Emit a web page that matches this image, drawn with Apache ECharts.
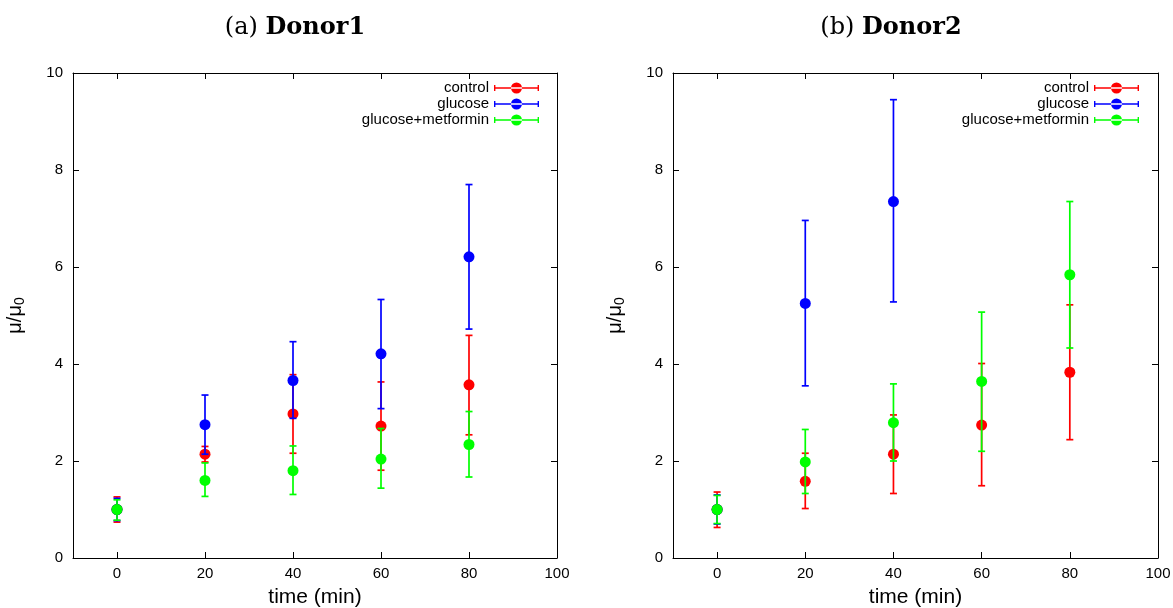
<!DOCTYPE html>
<html>
<head>
<meta charset="utf-8">
<script src="https://cdn.jsdelivr.net/npm/echarts@6/dist/echarts.min.js"></script>
<style>html,body{margin:0;padding:0;background:#fff}#c{width:1173px;height:608px}</style>
</head>
<body>
<div id="c"></div>
<script>
// ---- data ----
const times = [0, 20, 40, 60, 80];
const timesGlucose2 = [0, 20, 40];
const xTickValues = [0, 20, 40, 60, 80, 100];
const seriesNames = ['control', 'glucose', 'glucose+metformin'];
const panelTitles = [['(a) ', 'Donor1'], ['(b) ', 'Donor2']];

// Donor1
const d1ControlMean = [1.00, 2.14, 2.97, 2.72, 3.57];
const d1ControlLow  = [0.74, 1.98, 2.16, 1.81, 2.54];
const d1ControlHigh = [1.26, 2.30, 3.78, 3.63, 4.59];
const d1GlucoseMean = [1.00, 2.75, 3.66, 4.21, 6.21];
const d1GlucoseLow  = [0.77, 2.14, 2.88, 3.08, 4.72];
const d1GlucoseHigh = [1.23, 3.36, 4.46, 5.33, 7.70];
const d1MetforminMean = [1.00, 1.60, 1.80, 2.04, 2.34];
const d1MetforminLow  = [0.78, 1.27, 1.31, 1.44, 1.67];
const d1MetforminHigh = [1.20, 1.96, 2.31, 2.67, 3.02];

// Donor2
const d2ControlMean = [1.00, 1.58, 2.14, 2.74, 3.83];
const d2ControlLow  = [0.63, 1.02, 1.33, 1.49, 2.44];
const d2ControlHigh = [1.36, 2.16, 2.95, 4.01, 5.22];
const d2GlucoseMean = [1.00, 5.25, 7.35];
const d2GlucoseLow  = [0.70, 3.55, 5.28];
const d2GlucoseHigh = [1.30, 6.96, 9.45];
const d2MetforminMean = [1.00, 1.98, 2.79, 3.64, 5.84];
const d2MetforminLow  = [0.71, 1.33, 2.00, 2.20, 4.33];
const d2MetforminHigh = [1.29, 2.65, 3.59, 5.07, 7.35];

// ---- chart ----
const colors = ['#ff0000', '#0000ff', '#00ff00'];
const FONT = '"Liberation Sans", Arial, sans-serif';
const SERIF = '"DejaVu Serif", "Liberation Serif", serif';

function rows(t, m, lo, hi) {
  return t.map((x, i) => [x, m[i], lo[i], hi[i]]);
}

function renderErr(params, api) {
  const x = api.value(0);
  const pm = api.coord([x, api.value(1)]);
  const pl = api.coord([x, api.value(2)]);
  const ph = api.coord([x, api.value(3)]);
  const c = api.visual('color');
  const cw = 3.5;
  const ls = { stroke: c, lineWidth: 1.7 };
  return {
    type: 'group',
    children: [
      { type: 'line', shape: { x1: pl[0], y1: pl[1], x2: ph[0], y2: ph[1] }, style: ls },
      { type: 'line', shape: { x1: pl[0] - cw, y1: pl[1], x2: pl[0] + cw, y2: pl[1] }, style: ls },
      { type: 'line', shape: { x1: ph[0] - cw, y1: ph[1], x2: ph[0] + cw, y2: ph[1] }, style: ls },
      { type: 'circle', shape: { cx: pm[0], cy: pm[1], r: 5.5 }, style: { fill: c } }
    ]
  };
}

const legendIcon = 'path://M0,4.8h45v1.4h-45z M0,2.5h1.4v6h-1.4z M43.6,2.5h1.4v6h-1.4z M17,5.5a5.5,5.5 0 1,0 11,0a5.5,5.5 0 1,0 -11,0z';

function mkSeries(name, color, data, gi) {
  return {
    type: 'custom', name: name, data: data,
    xAxisIndex: gi * 2, yAxisIndex: gi * 2,
    itemStyle: { color: color },
    renderItem: renderErr,
    clip: false,
    silent: true,
    encode: { x: 0, y: [1, 2, 3] }
  };
}

const grids = [
  { left: 73, top: 73, width: 484, height: 485, outerBoundsMode: 'none', containLabel: false },
  { left: 673, top: 73, width: 485, height: 485, outerBoundsMode: 'none', containLabel: false }
];

const xAxes = [], yAxes = [];
grids.forEach((g, gi) => {
  const lineStyle = { color: '#000', width: 1 };
  xAxes.push({
    type: 'value', gridIndex: gi, position: 'bottom', min: -10, max: 100,
    name: 'time (min)', nameLocation: 'middle', nameGap: 29,
    nameTextStyle: { fontFamily: FONT, fontSize: 21, color: '#000' },
    axisLine: { show: true, onZero: false, lineStyle: lineStyle },
    axisTick: { show: true, inside: true, length: 6, lineStyle: lineStyle, customValues: xTickValues },
    axisLabel: { show: true, margin: 8, fontFamily: FONT, fontSize: 15, color: '#000', customValues: xTickValues },
    splitLine: { show: false }
  });
  xAxes.push({
    type: 'value', gridIndex: gi, position: 'top', min: -10, max: 100,
    axisLine: { show: true, onZero: false, lineStyle: lineStyle },
    axisTick: { show: true, inside: true, length: 6, lineStyle: lineStyle, customValues: xTickValues },
    axisLabel: { show: false },
    splitLine: { show: false }
  });
  yAxes.push({
    type: 'value', gridIndex: gi, position: 'left', min: 0, max: 10, interval: 2,
    name: '{a|μ/μ}{b|0}', nameLocation: 'middle', nameGap: 46, nameRotate: 90,
    nameTextStyle: {
      rich: {
        a: { fontFamily: FONT, fontSize: 20, color: '#000' },
        b: { fontFamily: FONT, fontSize: 14, color: '#000', verticalAlign: 'bottom', padding: [9, 0, 0, 0] }
      }
    },
    axisLine: { show: true, onZero: false, lineStyle: lineStyle },
    axisTick: { show: true, inside: true, length: 6, lineStyle: lineStyle },
    axisLabel: { show: true, margin: 10, fontFamily: FONT, fontSize: 15, color: '#000' },
    splitLine: { show: false }
  });
  yAxes.push({
    type: 'value', gridIndex: gi, position: 'right', min: 0, max: 10, interval: 2,
    axisLine: { show: true, onZero: false, lineStyle: lineStyle },
    axisTick: { show: true, inside: true, length: 6, lineStyle: lineStyle },
    axisLabel: { show: false },
    splitLine: { show: false }
  });
});

const legendData = seriesNames.map(n => ({ name: n, icon: legendIcon }));
const legendCommon = {
  orient: 'vertical', align: 'right', top: 80,
  itemWidth: 45, itemHeight: 11, itemGap: 0, padding: 0,
  selectedMode: false,
  textStyle: { fontFamily: FONT, fontSize: 15, lineHeight: 16, color: '#000' },
  data: legendData
};

const option = {
  animation: false,
  backgroundColor: '#fff',
  title: panelTitles.map((t, i) => ({
    text: '{n|' + t[0] + '}{b|' + t[1] + '}',
    left: i === 0 ? 295 : 891, top: 16, textAlign: 'center', padding: 0,
    textStyle: {
      fontWeight: 'normal',
      rich: {
        n: { fontFamily: SERIF, fontSize: 24, fontWeight: 'normal', color: '#000' },
        b: { fontFamily: SERIF, fontSize: 24, fontWeight: 'bold', color: '#000' }
      }
    }
  })),
  legend: [
    Object.assign({}, legendCommon, { right: 634 }),
    Object.assign({}, legendCommon, { right: 34 })
  ],
  grid: grids,
  xAxis: xAxes,
  yAxis: yAxes,
  series: [
    mkSeries(seriesNames[0], colors[0], rows(times, d1ControlMean, d1ControlLow, d1ControlHigh), 0),
    mkSeries(seriesNames[1], colors[1], rows(times, d1GlucoseMean, d1GlucoseLow, d1GlucoseHigh), 0),
    mkSeries(seriesNames[2], colors[2], rows(times, d1MetforminMean, d1MetforminLow, d1MetforminHigh), 0),
    mkSeries(seriesNames[0], colors[0], rows(times, d2ControlMean, d2ControlLow, d2ControlHigh), 1),
    mkSeries(seriesNames[1], colors[1], rows(timesGlucose2, d2GlucoseMean, d2GlucoseLow, d2GlucoseHigh), 1),
    mkSeries(seriesNames[2], colors[2], rows(times, d2MetforminMean, d2MetforminLow, d2MetforminHigh), 1)
  ]
};

const chart = echarts.init(document.getElementById('c'), null, { renderer: 'canvas' });
chart.setOption(option);
</script>
</body>
</html>
